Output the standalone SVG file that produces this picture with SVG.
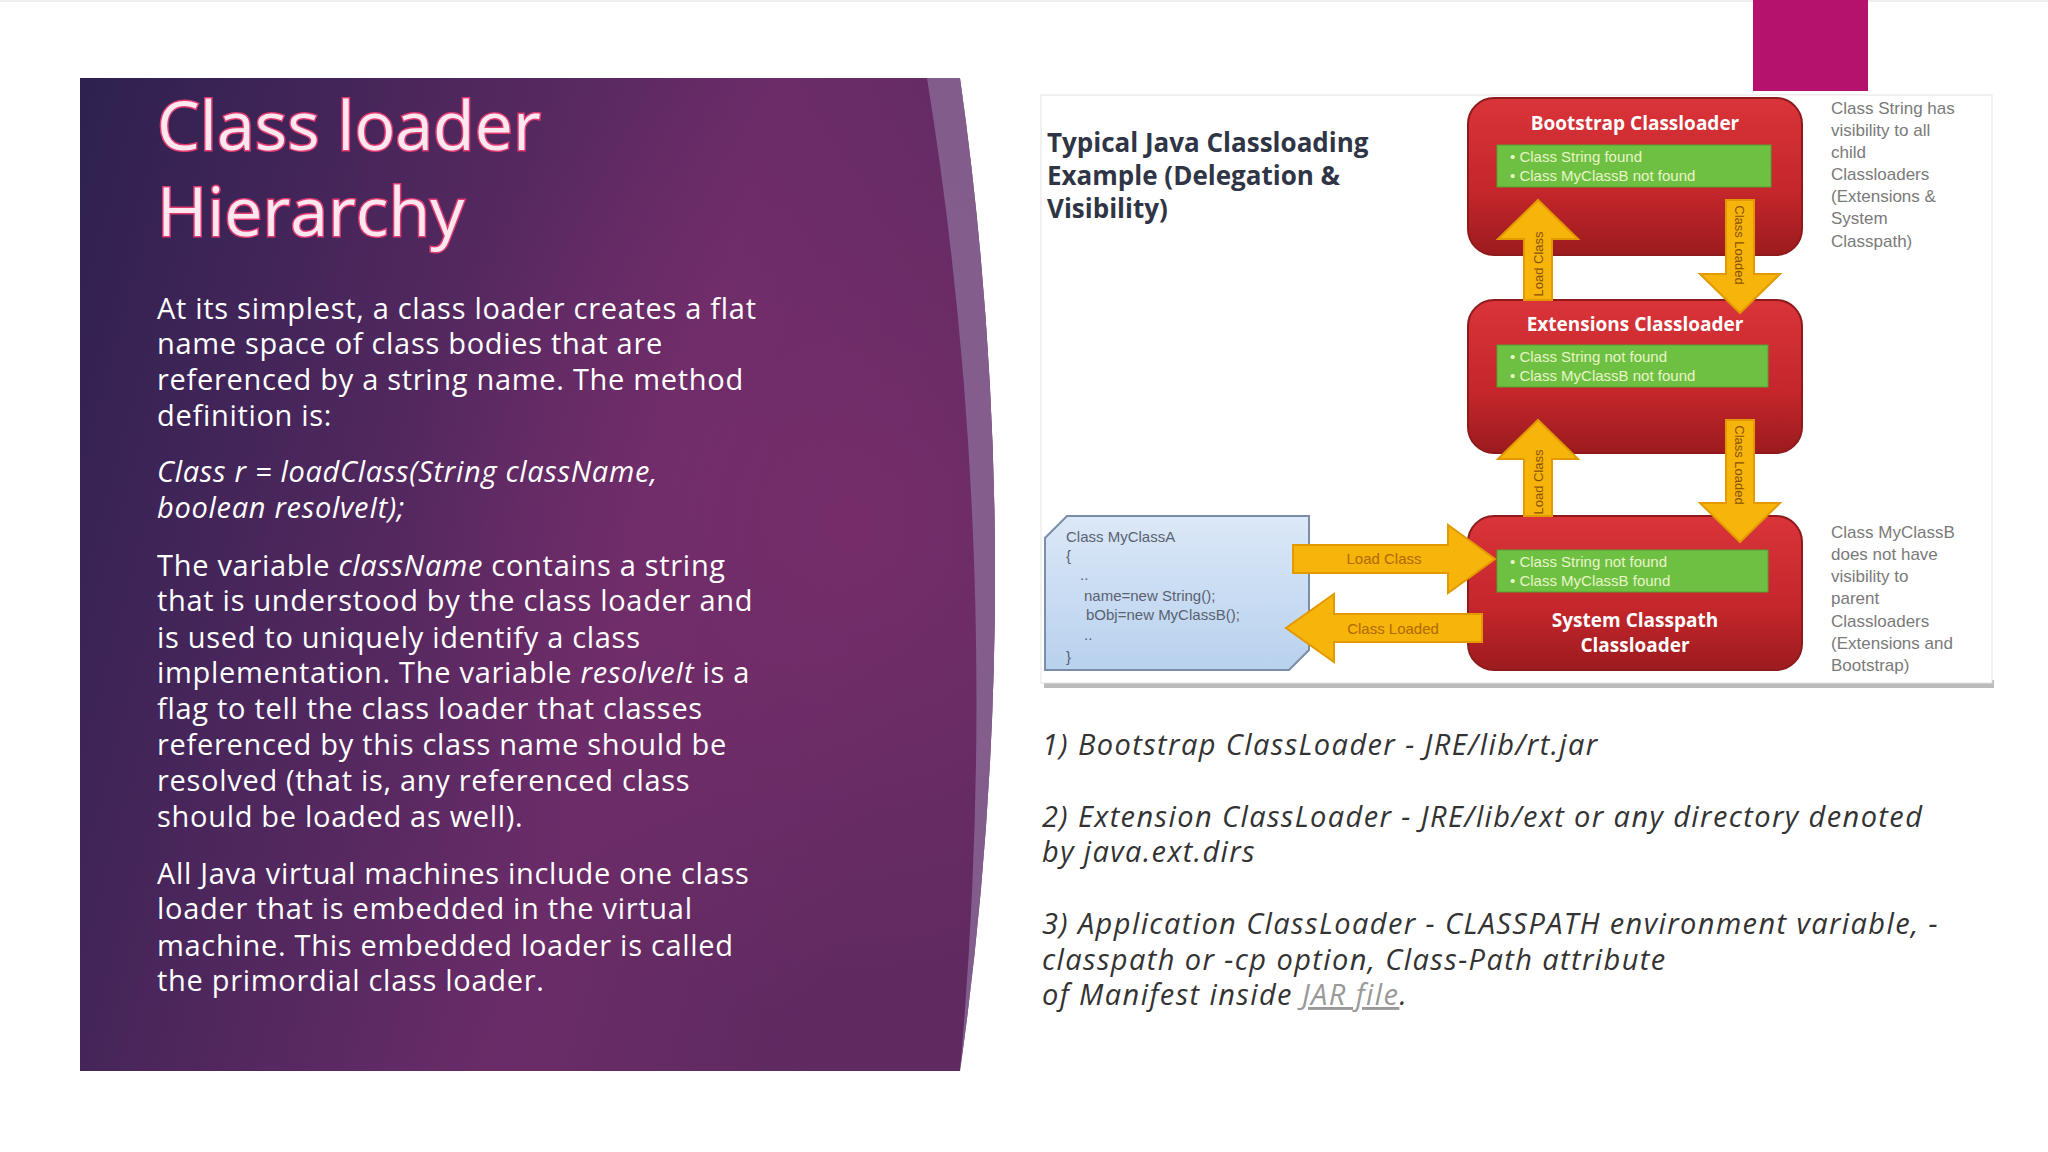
<svg xmlns="http://www.w3.org/2000/svg" width="2048" height="1152" viewBox="0 0 2048 1152">
<defs>
<linearGradient id="bg" x1="0" y1="0" x2="1" y2="0.3"><stop offset="0" stop-color="#2d2150"/><stop offset="0.7" stop-color="#6a2c68"/><stop offset="1" stop-color="#5e2a60"/></linearGradient>
<radialGradient id="glow" cx="0.85" cy="0.45" r="0.5"><stop offset="0" stop-color="#7a2e6c" stop-opacity="0.8"/><stop offset="1" stop-color="#7a2e6c" stop-opacity="0"/></radialGradient>
<linearGradient id="red" x1="0" y1="0" x2="0" y2="1"><stop offset="0" stop-color="#d9343a"/><stop offset="0.6" stop-color="#c4262b"/><stop offset="1" stop-color="#9b1b1e"/></linearGradient>
<linearGradient id="blue" x1="0" y1="0" x2="0" y2="1"><stop offset="0" stop-color="#dbe8f7"/><stop offset="1" stop-color="#b8d1ee"/></linearGradient>
<style>
.body{font-family:"Open Sans","Liberation Sans",sans-serif;font-size:29px;letter-spacing:0.7px;fill:#fff}
.it{font-style:italic}
.title{font-family:"Open Sans","Liberation Sans",sans-serif;font-size:68px;fill:#fde8f0;stroke:#e23a72;stroke-width:3px;paint-order:stroke}
.dt{font-family:"Open Sans","Liberation Sans",sans-serif;font-weight:bold;font-size:26px;fill:#2f3545}
.box{fill:url(#red);stroke:#8f1a1c;stroke-width:2}
.grn{fill:#6ec043;stroke:#58a030;stroke-width:1}
.gt{font-family:"Liberation Sans",sans-serif;font-size:15px;fill:#e8f5c8}
.bt{font-family:"Open Sans","Liberation Sans",sans-serif;font-weight:bold;font-size:19px;fill:#fff;text-anchor:middle}
.arr{fill:#f7b40a;stroke:#e29a00;stroke-width:2}
.at{font-family:"Liberation Sans",sans-serif;font-size:15px;fill:#b06a00;text-anchor:middle}
.av{font-family:"Liberation Sans",sans-serif;font-size:13px;fill:#8a5200;text-anchor:middle}
.note{font-family:"Liberation Sans",sans-serif;font-size:17px;fill:#7a7a7a}
.code{font-family:"Liberation Sans",sans-serif;font-size:15px;fill:#5a6270}
.list{font-family:"Open Sans","Liberation Sans",sans-serif;font-size:29px;letter-spacing:1.4px;fill:#333;font-style:italic}
</style>
</defs>
<rect width="2048" height="1152" fill="#fff"/>
<line x1="0" y1="1" x2="2048" y2="1" stroke="#ddd"/>
<rect x="1753" y="0" width="115" height="91" fill="#b5126e"/>
<g id="panel">
<path d="M80,78 L960,78 Q1030,575 960,1071 L80,1071 Z" fill="url(#bg)"/>
<path d="M80,78 L960,78 Q1030,575 960,1071 L80,1071 Z" fill="url(#glow)"/>
<path d="M927,78 L960,78 Q1030,575 960,1071 Q1005,560 927,78 Z" fill="#8a6a96" opacity="0.8"/>
<text class="title" x="157" y="150">Class loader</text>
<text class="title" x="157" y="236">Hierarchy</text>
<text class="body" x="157" y="319">At its simplest, a class loader creates a flat</text>
<text class="body" x="157" y="354">name space of class bodies that are</text>
<text class="body" x="157" y="390">referenced by a string name. The method</text>
<text class="body" x="157" y="426">definition is:</text>
<text class="body it" x="157" y="482">Class r = loadClass(String className,</text>
<text class="body it" x="157" y="518">boolean resolveIt);</text>
<text class="body" x="157" y="576">The variable <tspan class="it">className</tspan> contains a string</text>
<text class="body" x="157" y="611">that is understood by the class loader and</text>
<text class="body" x="157" y="648">is used to uniquely identify a class</text>
<text class="body" x="157" y="683">implementation. The variable <tspan class="it">resolveIt</tspan> is a</text>
<text class="body" x="157" y="719">flag to tell the class loader that classes</text>
<text class="body" x="157" y="755">referenced by this class name should be</text>
<text class="body" x="157" y="791">resolved (that is, any referenced class</text>
<text class="body" x="157" y="827">should be loaded as well).</text>
<text class="body" x="157" y="884">All Java virtual machines include one class</text>
<text class="body" x="157" y="919">loader that is embedded in the virtual</text>
<text class="body" x="157" y="956">machine. This embedded loader is called</text>
<text class="body" x="157" y="991">the primordial class loader.</text>
</g>
<g id="figure">
<rect x="1044" y="680" width="950" height="8" fill="#bbb"/>
<rect x="1041" y="95" width="951" height="588" fill="#fff" stroke="#e4e4e4"/>
<text class="dt" x="1047" y="152">Typical Java Classloading</text>
<text class="dt" x="1047" y="185">Example (Delegation &amp;</text>
<text class="dt" x="1047" y="218">Visibility)</text>
</g>
<g id="bootstrap">
<rect class="box" x="1468" y="98" width="334" height="157" rx="26"/>
<text class="bt" x="1635" y="130">Bootstrap Classloader</text>
<rect class="grn" x="1497" y="145" width="274" height="42"/>
<text class="gt" x="1510" y="162">• Class String found</text>
<text class="gt" x="1510" y="181">• Class MyClassB not found</text>
</g>
<g id="extensions">
<rect class="box" x="1468" y="300" width="334" height="153" rx="26"/>
<text class="bt" x="1635" y="331">Extensions Classloader</text>
<rect class="grn" x="1497" y="345" width="271" height="42"/>
<text class="gt" x="1510" y="362">• Class String not found</text>
<text class="gt" x="1510" y="381">• Class MyClassB not found</text>
</g>
<g id="system">
<rect class="box" x="1468" y="516" width="334" height="154" rx="26"/>
<rect class="grn" x="1497" y="550" width="271" height="42"/>
<text class="gt" x="1510" y="567">• Class String not found</text>
<text class="gt" x="1510" y="586">• Class MyClassB found</text>
<text class="bt" x="1635" y="627">System Classpath</text>
<text class="bt" x="1635" y="652">Classloader</text>
</g>
<g id="myclassa">
<path d="M1067,516 L1309,516 L1309,650 L1289,670 L1045,670 L1045,538 Z" fill="url(#blue)" stroke="#7a8ea8" stroke-width="2"/>
<text class="code" x="1066" y="542">Class MyClassA</text>
<text class="code" x="1066" y="561">{</text>
<text class="code" x="1080" y="580">..</text>
<text class="code" x="1084" y="601">name=new String();</text>
<text class="code" x="1086" y="620">bObj=new MyClassB();</text>
<text class="code" x="1084" y="640">..</text>
<text class="code" x="1066" y="662">}</text>
</g>
<g id="connectors">
<path class="arr" d="M1524,300 L1524,239 L1498,239 L1538,200 L1578,239 L1552,239 L1552,300 Z"/>
<text class="av" transform="translate(1543,264) rotate(-90)">Load Class</text>
<path class="arr" d="M1524,516 L1524,459 L1498,459 L1538,420 L1578,459 L1552,459 L1552,516 Z"/>
<text class="av" transform="translate(1543,482) rotate(-90)">Load Class</text>
<path class="arr" d="M1726,200 L1754,200 L1754,274 L1780,274 L1740,313 L1700,274 L1726,274 Z"/>
<text class="av" transform="translate(1735,245) rotate(90)">Class Loaded</text>
<path class="arr" d="M1726,420 L1754,420 L1754,503 L1780,503 L1740,542 L1700,503 L1726,503 Z"/>
<text class="av" transform="translate(1735,465) rotate(90)">Class Loaded</text>
<path class="arr" d="M1293,545 L1448,545 L1448,525 L1495,559 L1448,593 L1448,573 L1293,573 Z"/>
<text class="at" x="1384" y="564">Load Class</text>
<path class="arr" d="M1482,614 L1334,614 L1334,594 L1286,628 L1334,662 L1334,642 L1482,642 Z"/>
<text class="at" x="1393" y="634">Class  Loaded</text>
</g>
<g id="notes">
<text class="note" x="1831" y="114">Class String has</text>
<text class="note" x="1831" y="136">visibility to all</text>
<text class="note" x="1831" y="158">child</text>
<text class="note" x="1831" y="180">Classloaders</text>
<text class="note" x="1831" y="202">(Extensions &amp;</text>
<text class="note" x="1831" y="224">System</text>
<text class="note" x="1831" y="247">Classpath)</text>
<text class="note" x="1831" y="538">Class MyClassB</text>
<text class="note" x="1831" y="560">does not have</text>
<text class="note" x="1831" y="582">visibility to</text>
<text class="note" x="1831" y="604">parent</text>
<text class="note" x="1831" y="627">Classloaders</text>
<text class="note" x="1831" y="649">(Extensions and</text>
<text class="note" x="1831" y="671">Bootstrap)</text>
</g>
<g id="list">
<text class="list" x="1042" y="755">1) Bootstrap ClassLoader - JRE/lib/rt.jar</text>
<text class="list" x="1042" y="827">2) Extension ClassLoader - JRE/lib/ext or any directory denoted</text>
<text class="list" x="1042" y="862">by java.ext.dirs</text>
<text class="list" x="1042" y="934">3) Application ClassLoader - CLASSPATH environment variable, -</text>
<text class="list" x="1042" y="970">classpath or -cp option, Class-Path attribute</text>
<text class="list" x="1042" y="1005">of Manifest inside <tspan fill="#999" text-decoration="underline">JAR file</tspan>.</text>
</g>
</svg>
